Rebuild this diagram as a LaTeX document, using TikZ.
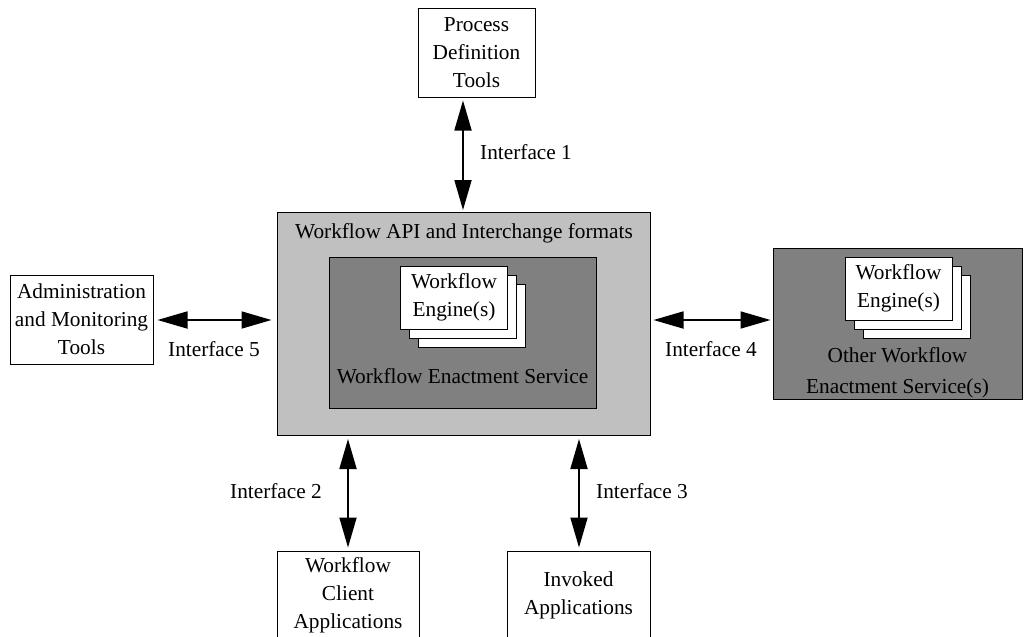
\documentclass[tikz,border=0pt]{standalone}
\usepackage{fontspec}
\setmainfont{Liberation Serif}
\usetikzlibrary{arrows.meta}
\definecolor{apigray}{HTML}{C0C0C0}
\definecolor{enactgray}{HTML}{808080}
\begin{document}
\begin{tikzpicture}[x=1pt,y=-1pt,
  every node/.style={font=\fontsize{21.3}{28}\selectfont, inner sep=0pt, align=center},
  box/.style={draw, line width=1pt, fill=white},
  enginebox/.style={draw, line width=1pt, fill=white, minimum width=107pt, minimum height=63pt},
  link/.style={line width=1.8pt, {Triangle[length=30pt,width=17pt]}-{Triangle[length=30pt,width=17pt]}}]
  \clip (0,0) rectangle (1029,637);
  \fill[white] (0,0) rectangle (1029,637);

  % central interchange box and the enactment service inside it
  \node[box, fill=apigray, minimum width=373pt, minimum height=223pt] (api) at (463.5,324) {};
  \node (apitext) at (464,233) {Workflow API and Interchange formats};
  \node[box, fill=enactgray, minimum width=267pt, minimum height=151pt] (wes) at (462.5,332.5) {};
  \node[enginebox] (engC) at (472,315.5) {};
  \node[enginebox] (engB) at (463,306.5) {};
  \node[enginebox] (engA) at (454,297.5) {Workflow\\Engine(s)};
  \node (westext) at (462.5,376) {Workflow Enactment Service};

  % other enactment services
  \node[box, fill=enactgray, minimum width=249pt, minimum height=151pt] (other) at (897.5,323.5) {};
  \node[enginebox] (oengC) at (916.5,306.5) {};
  \node[enginebox] (oengB) at (907.5,297.5) {};
  \node[enginebox] (oengA) at (898.5,288.5) {Workflow\\Engine(s)};
  \node[font=\fontsize{21.3}{30.5}\selectfont] (othertext) at (897.5,373) {Other Workflow\\Enactment Service(s)};

  % surrounding components
  \node[box, minimum width=117pt, minimum height=89pt] (pdt) at (476.5,52.5) {Process\\Definition\\Tools};
  \node[box, minimum width=143pt, minimum height=89pt] (adm) at (81.5,319.5) {Administration\\and Monitoring\\Tools};
  \node[box, minimum width=142pt, minimum height=89pt] (cli) at (348,595.5) {Workflow\\Client\\Applications};
  \node[box, minimum width=143pt, minimum height=89pt] (inv) at (578.5,595.5) {Invoked\\Applications};

  % connector positions
  \coordinate (x1) at (463,0);
  \coordinate (x2) at (348,0);
  \coordinate (x3) at (579,0);
  \coordinate (y45) at (0,320);

  \draw[link, shorten <=3pt, shorten >=2pt] (pdt.south -| x1) -- (api.north -| x1);
  \draw[link, shorten <=4pt, shorten >=5pt] (adm.east |- y45) -- (api.west |- y45);
  \draw[link, shorten <=3pt, shorten >=2pt] (api.east |- y45) -- (other.west |- y45);
  \draw[link, shorten <=3pt, shorten >=3pt] (api.south -| x2) -- (cli.north -| x2);
  \draw[link, shorten <=3pt, shorten >=3pt] (api.south -| x3) -- (inv.north -| x3);

  % interface labels
  \node[anchor=west] (if1) at (480,152) {Interface 1};
  \node (if5) at (214,349) {Interface 5};
  \node (if4) at (711,349) {Interface 4};
  \node[anchor=east] (if2) at (322,491) {Interface 2};
  \node[anchor=west] (if3) at (596,491) {Interface 3};
\end{tikzpicture}
\end{document}
